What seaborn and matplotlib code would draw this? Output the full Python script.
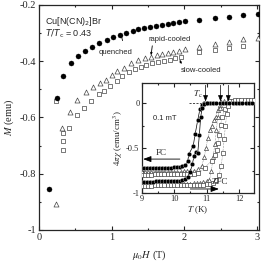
import matplotlib
matplotlib.use("Agg")
import matplotlib.pyplot as plt
import seaborn as sns

# main panel: magnetisation vs field, T/Tc = 0.43
h_quenched = [0.14, 0.25, 0.33, 0.44, 0.54, 0.63, 0.73, 0.83, 0.93, 1.02, 1.11, 1.20,
              1.29, 1.37, 1.45, 1.53, 1.61, 1.69, 1.77, 1.85, 1.93, 2.01, 2.21, 2.42,
              2.62, 2.81, 3.02]
m_quenched = [-0.855, -0.530, -0.453, -0.405, -0.381, -0.362, -0.348, -0.336, -0.323,
              -0.313, -0.305, -0.299, -0.292, -0.287, -0.282, -0.278, -0.274, -0.270,
              -0.267, -0.264, -0.261, -0.258, -0.252, -0.246, -0.241, -0.237, -0.233]
h_rapid = [0.23, 0.32, 0.43, 0.53, 0.65, 0.74, 0.84, 0.92, 1.00, 1.08, 1.17, 1.27, 1.37,
           1.46, 1.54, 1.62, 1.70, 1.77, 1.85, 1.93, 2.01, 2.21, 2.42, 2.62, 2.81, 3.02]
m_rapid = [-0.908, -0.637, -0.580, -0.538, -0.509, -0.493, -0.479, -0.467, -0.449,
           -0.434, -0.425, -0.408, -0.396, -0.387, -0.384, -0.378, -0.375, -0.372,
           -0.366, -0.363, -0.358, -0.348, -0.340, -0.333, -0.321, -0.319]
h_slow = [0.23, 0.33, 0.33, 0.33, 0.42, 0.53, 0.62, 0.72, 0.82, 0.90, 0.98, 1.07, 1.15,
          1.24, 1.32, 1.40, 1.48, 1.56, 1.64, 1.72, 1.80, 1.88, 1.96, 2.21, 2.42, 2.62,
          2.81]
m_slow = [-0.540, -0.655, -0.685, -0.715, -0.637, -0.590, -0.565, -0.540, -0.518, -0.505,
          -0.488, -0.470, -0.452, -0.438, -0.427, -0.420, -0.414, -0.408, -0.404, -0.399,
          -0.396, -0.390, -0.385, -0.368, -0.360, -0.353, -0.345]

# inset: susceptibility vs temperature at 0.1 mT
t_q_fc = [9.00, 9.09, 9.18, 9.27, 9.36, 9.45, 9.54, 9.63, 9.72, 9.81, 9.90, 9.99, 10.08,
          10.17, 10.26, 10.35, 10.42, 10.46, 10.59, 10.65, 10.73, 10.80, 10.86, 10.92,
          11.00, 11.10, 11.20, 11.30, 11.40, 11.50, 11.60, 11.70, 11.80, 11.90, 12.00,
          12.10, 12.20, 12.30, 12.40]
x_q_fc = [-0.722, -0.722, -0.721, -0.721, -0.720, -0.720, -0.719, -0.718, -0.717, -0.716,
          -0.714, -0.712, -0.709, -0.704, -0.698, -0.690, -0.640, -0.563, -0.474, -0.342,
          -0.186, -0.060, -0.015, 0.0, 0.0, 0.0, 0.0, 0.0, 0.0, 0.0, 0.0, 0.0, 0.0, 0.0,
          0.0, 0.0, 0.0, 0.0, 0.0]
t_q_zfc = [9.00, 9.09, 9.18, 9.27, 9.36, 9.45, 9.54, 9.63, 9.72, 9.81, 9.90, 9.99, 10.08,
           10.17, 10.26, 10.35, 10.43, 10.50, 10.56, 10.62, 10.67, 10.73, 10.78, 10.82,
           10.87, 10.93, 11.00]
x_q_zfc = [-0.870, -0.870, -0.869, -0.869, -0.869, -0.868, -0.868, -0.867, -0.867, -0.866,
           -0.865, -0.864, -0.862, -0.858, -0.852, -0.840, -0.815, -0.760, -0.678, -0.582,
           -0.537, -0.549, -0.350, -0.149, -0.049, -0.010, 0.0]
t_r_fc = [9.00, 9.10, 9.20, 9.30, 9.40, 9.50, 9.60, 9.70, 9.80, 9.90, 10.00, 10.10, 10.20,
          10.30, 10.40, 10.50, 10.62, 10.74, 10.85, 10.93, 10.98, 11.04, 11.10, 11.16,
          11.22, 11.28, 11.34, 11.40, 11.46, 11.55, 11.65, 11.75, 11.85, 11.95, 12.05,
          12.15, 12.25, 12.35, 12.45]
x_r_fc = [-0.762, -0.762, -0.762, -0.761, -0.761, -0.761, -0.760, -0.760, -0.760, -0.759,
          -0.759, -0.758, -0.758, -0.757, -0.756, -0.755, -0.750, -0.735, -0.700, -0.600,
          -0.500, -0.389, -0.300, -0.249, -0.186, -0.149, -0.074, -0.020, 0.015, 0.020,
          0.020, 0.020, 0.020, 0.020, 0.020, 0.020, 0.020, 0.020, 0.020]
t_r_zfc = [9.00, 9.10, 9.20, 9.30, 9.40, 9.50, 9.60, 9.70, 9.80, 9.90, 10.00, 10.10,
           10.20, 10.30, 10.40, 10.50, 10.60, 10.70, 10.80, 10.90, 11.00, 11.09, 11.15,
           11.20, 11.26, 11.30, 11.35, 11.40, 11.45]
x_r_zfc = [-0.897, -0.897, -0.897, -0.896, -0.896, -0.896, -0.896, -0.895, -0.895, -0.895,
           -0.895, -0.894, -0.894, -0.893, -0.893, -0.892, -0.890, -0.888, -0.884, -0.878,
           -0.866, -0.850, -0.750, -0.600, -0.450, -0.300, -0.150, -0.050, 0.010]
t_s_fc = [9.00, 9.10, 9.20, 9.30, 9.40, 9.50, 9.60, 9.70, 9.80, 9.90, 10.00, 10.10, 10.20,
          10.30, 10.40, 10.50, 10.60, 10.75, 10.95, 11.16, 11.26, 11.31, 11.36, 11.39,
          11.43, 11.48, 11.57, 11.67, 11.77, 11.87, 11.97, 12.07, 12.17, 12.27, 12.37,
          12.45]
x_s_fc = [-0.792, -0.792, -0.792, -0.792, -0.791, -0.791, -0.791, -0.791, -0.790, -0.790,
          -0.790, -0.790, -0.789, -0.789, -0.788, -0.787, -0.785, -0.778, -0.715, -0.641,
          -0.574, -0.519, -0.444, -0.352, -0.241, -0.149, -0.063, 0.0, 0.030, 0.035, 0.035,
          0.035, 0.035, 0.035, 0.035, 0.035]
t_s_zfc = [9.00, 9.10, 9.20, 9.30, 9.40, 9.50, 9.60, 9.70, 9.80, 9.90, 10.00, 10.10,
           10.20, 10.30, 10.40, 10.50, 10.60, 10.70, 10.80, 10.90, 11.00, 11.10, 11.20,
           11.30, 11.38, 11.45, 11.50, 11.54, 11.58, 11.62, 11.66, 11.70]
x_s_zfc = [-0.914, -0.914, -0.914, -0.914, -0.913, -0.913, -0.913, -0.913, -0.912, -0.912,
           -0.912, -0.912, -0.911, -0.911, -0.910, -0.910, -0.909, -0.908, -0.906, -0.903,
           -0.898, -0.892, -0.882, -0.850, -0.800, -0.700, -0.550, -0.400, -0.250, -0.120,
           -0.030, 0.020]
tc_arrows = [10.97, 11.43, 11.67]

sns.set_theme(style="ticks")
plt.rcParams["font.family"] = ["Liberation Serif", "DejaVu Serif"]
plt.rcParams["mathtext.fontset"] = "stix"
plt.rcParams["axes.linewidth"] = 0.9
for a in ("x", "y"):
    plt.rcParams[a + "tick.direction"] = "in"
    plt.rcParams[a + "tick.major.size"] = 3
    plt.rcParams[a + "tick.minor.size"] = 1.6
    plt.rcParams[a + "tick.major.width"] = 0.8
    plt.rcParams[a + "tick.minor.width"] = 0.8
    plt.rcParams[a + "tick.major.pad"] = 2

fig = plt.figure(figsize=(2.68, 2.61), dpi=100)
ax = fig.add_axes([0.1455, 0.1188, 0.8209, 0.8621])

sns.scatterplot(x=h_quenched, y=m_quenched, ax=ax, marker="o", s=13, color="black",
                edgecolor="black", linewidth=0.3, zorder=3)
sns.scatterplot(x=h_rapid, y=m_rapid, ax=ax, marker="^", s=13, facecolor="white",
                edgecolor="#444444", linewidth=0.5, zorder=3)
sns.scatterplot(x=h_slow, y=m_slow, ax=ax, marker="s", s=11, facecolor="white",
                edgecolor="#444444", linewidth=0.5, zorder=2)

ax.set_xlim(0, 3.03)
ax.set_ylim(-1, -0.2)
ax.set_xticks([0, 1, 2, 3])
ax.set_xticks([0.5, 1.5, 2.5], minor=True)
ax.set_yticks([-1, -0.8, -0.6, -0.4, -0.2])
ax.set_yticks([-0.9, -0.7, -0.5, -0.3], minor=True)
ax.set_xticklabels(["0", "1", "2", "3"])
ax.set_yticklabels(["-1", "-0.8", "-0.6", "-0.4", "-0.2"])
ax.tick_params(which="both", top=True, right=True, labelsize=7.5)
ax.set_xlabel(r"$\mu_0H$ (T)", fontsize=7.5, labelpad=5)
ax.set_ylabel(r"$M$ (emu)", fontsize=7.5, labelpad=3)
for sp in ax.spines.values():
    sp.set_visible(True)

sans = ["Liberation Sans", "DejaVu Sans"]
ax.text(0.08, -0.26, r"Cu[N(CN)$_2$]Br", fontsize=6.5, family=sans, va="center",
        math_fontfamily="dejavusans")
ax.text(0.08, -0.303, r"$T/T_\mathrm{c}$ = 0.43", fontsize=6.5, family=sans,
        va="center", math_fontfamily="dejavusans")
ax.annotate("quenched", xy=(1.13, -0.305), xytext=(1.05, -0.37), fontsize=5.5,
            family=sans, ha="center", va="center",
            arrowprops=dict(arrowstyle="-", lw=0.6, color="black",
                            shrinkA=4, shrinkB=1, relpos=(0.78, 1)))
ax.annotate("rapid-cooled", xy=(1.54, -0.384), xytext=(1.8, -0.321), fontsize=5.5,
            family=sans, ha="center", va="center",
            arrowprops=dict(arrowstyle="-|>,head_length=0.25,head_width=0.1", lw=0.6,
                            color="black", shrinkA=0, shrinkB=1, relpos=(0.1, 0)))
ax.annotate("slow-cooled", xy=(1.93, -0.39), xytext=(2.23, -0.432), fontsize=5.5,
            family=sans, ha="center", va="center",
            arrowprops=dict(arrowstyle="-|>,head_length=0.25,head_width=0.1", lw=0.6,
                            color="black", shrinkA=0, shrinkB=1, relpos=(0.05, 1)))

# inset
ins = fig.add_axes([0.528, 0.2594, 0.4198, 0.4226])
sns.lineplot(x=t_q_fc, y=x_q_fc, ax=ins, sort=False, estimator=None, color="black",
             lw=0.5, marker="o", markersize=3.2, markeredgewidth=0.2, zorder=4)
sns.lineplot(x=t_q_zfc, y=x_q_zfc, ax=ins, sort=False, estimator=None, color="black",
             lw=0.5, marker="o", markersize=3.2, markeredgewidth=0.2, zorder=4)
for tt, xx, mk in ((t_r_fc, x_r_fc, "^"), (t_r_zfc, x_r_zfc, "^"),
                   (t_s_fc, x_s_fc, "s"), (t_s_zfc, x_s_zfc, "s")):
    sns.lineplot(x=tt, y=xx, ax=ins, sort=False, estimator=None, color="#444444",
                 lw=0.4, ls=":", marker=mk, markersize=3.0 if mk == "^" else 2.6,
                 markerfacecolor="white", markeredgecolor="#444444",
                 markeredgewidth=0.5, zorder=3)

ins.set_xlim(9, 12.46)
ins.set_ylim(-1, 0.225)
ins.set_xticks([9, 10, 11, 12])
ins.set_xticks([9.5, 10.5, 11.5, 12.5], minor=True)
ins.set_yticks([-1, -0.5, 0])
ins.set_yticks([-0.75, -0.25], minor=True)
ins.set_xticklabels(["9", "10", "11", "12"])
ins.set_yticklabels(["-1", "-0.5", "0"])
ins.set_xlim(9, 12.46)
ins.tick_params(which="both", top=True, right=True, labelsize=6, pad=1.5)
ins.set_xlabel(r"$T$ (K)", fontsize=6.5, labelpad=1)
ins.set_ylabel(r"$4\pi\chi$ (emu/cm$^3$)", fontsize=6.5, labelpad=1)
for sp in ins.spines.values():
    sp.set_visible(True)

ins.plot([10.45, 10.95], [0, 0], color="black", lw=0.5, ls=(0, (3, 2)))
ins.text(10.72, 0.1, r"$T_\mathrm{c}$", fontsize=6.5, ha="center", va="center")
for tc in tc_arrows:
    ins.annotate("", xy=(tc, 0.02), xytext=(tc, 0.2),
                 arrowprops=dict(arrowstyle="-|>,head_length=0.3,head_width=0.12",
                                 lw=0.5, color="black", shrinkA=0, shrinkB=0))
ins.text(9.7, -0.165, "0.1 mT", fontsize=5.5, family=sans, ha="center", va="center")
ins.text(9.62, -0.55, "FC", fontsize=6.5, ha="center", va="center")
ins.annotate("", xy=(9.05, -0.62), xytext=(10.18, -0.62),
             arrowprops=dict(arrowstyle="-|>,head_length=0.4,head_width=0.15", lw=0.6,
                             color="black", shrinkA=0, shrinkB=0))
ins.text(11.42, -0.87, "ZFC", fontsize=6.5, ha="center", va="center")
ins.annotate("", xy=(11.38, -0.952), xytext=(10.5, -0.952),
             arrowprops=dict(arrowstyle="-|>,head_length=0.4,head_width=0.15", lw=0.6,
                             color="black", shrinkA=0, shrinkB=0))

fig.savefig("out.png", dpi=100)
